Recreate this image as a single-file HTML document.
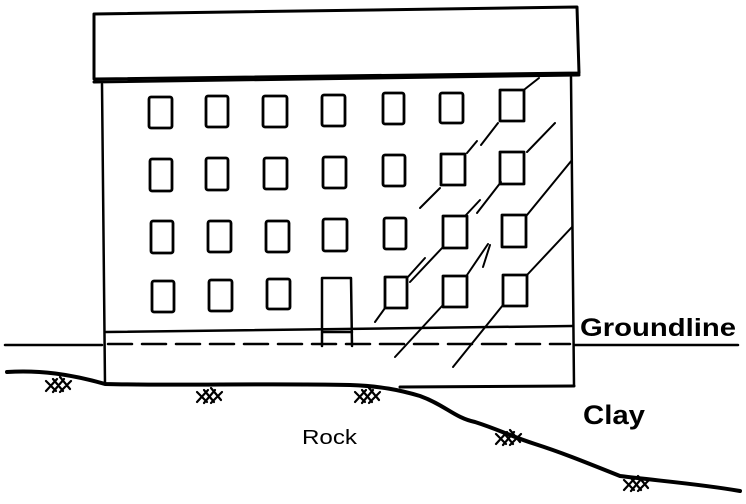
<!DOCTYPE html>
<html><head><style>
html,body{margin:0;padding:0;background:#fff;}
svg{display:block;}
text{font-family:"Liberation Sans",sans-serif;fill:#000;}
</style></head><body>
<svg width="746" height="504" viewBox="0 0 746 504" xmlns="http://www.w3.org/2000/svg">
<g fill="none" stroke="#000" stroke-linecap="round" stroke-linejoin="round">
<!-- roof -->
<path d="M94 14 L577 7 L579 73 L94 79 Z" stroke-width="3"/>
<path d="M94 82 L579 75" stroke-width="3"/>
<!-- body -->
<path d="M102 84 L105 384" stroke-width="2.5"/>
<path d="M571 77 L574 386" stroke-width="2.5"/>
<path d="M400 387 L574 386" stroke-width="3"/>
<path d="M106 332 L572 326" stroke-width="2.5"/>
<path d="M108 344 L570 344" stroke-width="2.5" stroke-dasharray="24,10"/>
<path d="M5 345 L102 345 M575 345 L738 345" stroke-width="2.5"/>
<!-- windows -->
<g stroke-width="2.8">
<rect x="149" y="97" width="23" height="31" rx="2"/>
<rect x="206" y="96" width="22" height="31" rx="2"/>
<rect x="263" y="96" width="24" height="31" rx="2"/>
<rect x="322" y="95" width="23" height="31" rx="2"/>
<rect x="383" y="93" width="21" height="31" rx="2"/>
<rect x="440" y="93" width="23" height="30" rx="2"/>
<rect x="500" y="90" width="24" height="31"/>
<rect x="150" y="159" width="22" height="32" rx="2"/>
<rect x="206" y="158" width="22" height="32" rx="2"/>
<rect x="264" y="158" width="23" height="31" rx="2"/>
<rect x="323" y="157" width="23" height="31" rx="2"/>
<rect x="383" y="155" width="22" height="31" rx="2"/>
<rect x="441" y="154" width="24" height="31"/>
<rect x="500" y="152" width="24" height="32"/>
<rect x="151" y="221" width="22" height="32" rx="2"/>
<rect x="208" y="221" width="23" height="31" rx="2"/>
<rect x="266" y="221" width="23" height="31" rx="2"/>
<rect x="323" y="219" width="24" height="32" rx="2"/>
<rect x="384" y="218" width="22" height="31" rx="2"/>
<rect x="443" y="216" width="24" height="32"/>
<rect x="502" y="215" width="24" height="32"/>
<rect x="152" y="281" width="22" height="31" rx="2"/>
<rect x="209" y="280" width="23" height="31" rx="2"/>
<rect x="267" y="279" width="23" height="30" rx="2"/>
<rect x="385" y="277" width="22" height="31"/>
<rect x="443" y="276" width="24" height="31"/>
<rect x="503" y="275" width="24" height="31"/>
</g>
<path d="M322 346 L322 278 L351 278 L352 346 M322 332 L352 332" stroke-width="2.5"/>
<!-- cracks -->
<g stroke-width="2">
<path d="M525 89 L539 78"/>
<path d="M498 123 L481 145"/>
<path d="M477 141 L467 153"/>
<path d="M555 123 L527 152"/>
<path d="M572 160 L527 215"/>
<path d="M440 188 L420 208"/>
<path d="M480 200 L466 215"/>
<path d="M501 182 L477 213"/>
<path d="M572 227 L527 275"/>
<path d="M490 245 L483 267"/>
<path d="M488 244 L467 275"/>
<path d="M443 247 L410 282"/>
<path d="M425 258 L407 278"/>
<path d="M385 308 L375 322"/>
<path d="M443 305 L395 357"/>
<path d="M503 305 L453 367"/>
</g>
<!-- ground -->
<path d="M7 372 C40 370 70 374 105 384 C180 386 260 383 350 385 C380 386 400 390 420 396 C445 405 455 418 475 422 C500 430 510 436 535 444 C560 452 580 460 620 476 C660 481 700 484 740 491" stroke-width="4"/>
<!-- hatches -->
<g stroke-width="2.2">
<g transform="translate(46,377)"><path d="M0 4 L10 14 M7 2 L17 14 M14 0 L24 12 M0 14 L11 2 M7 15 L18 2 M14 15 L25 4"/></g>
<g transform="translate(197,388)"><path d="M0 4 L10 14 M7 2 L17 14 M14 0 L24 12 M0 14 L11 2 M7 15 L18 2 M14 15 L25 4"/></g>
<g transform="translate(355,388)"><path d="M0 4 L10 14 M7 2 L17 14 M14 0 L24 12 M0 14 L11 2 M7 15 L18 2 M14 15 L25 4"/></g>
<g transform="translate(496,430)"><path d="M0 4 L10 14 M7 2 L17 14 M14 0 L24 12 M0 14 L11 2 M7 15 L18 2 M14 15 L25 4"/></g>
<g transform="translate(624,476)"><path d="M0 4 L10 14 M7 2 L17 14 M14 0 L24 12 M0 14 L11 2 M7 15 L18 2 M14 15 L25 4"/></g>
</g>
</g>
<text x="580" y="336" font-size="25" font-weight="bold" textLength="156" lengthAdjust="spacingAndGlyphs">Groundline</text>
<text x="583" y="424" font-size="27" font-weight="bold" textLength="62" lengthAdjust="spacingAndGlyphs">Clay</text>
<text x="302" y="444" font-size="20" textLength="55" lengthAdjust="spacingAndGlyphs">Rock</text>
</svg>
</body></html>
